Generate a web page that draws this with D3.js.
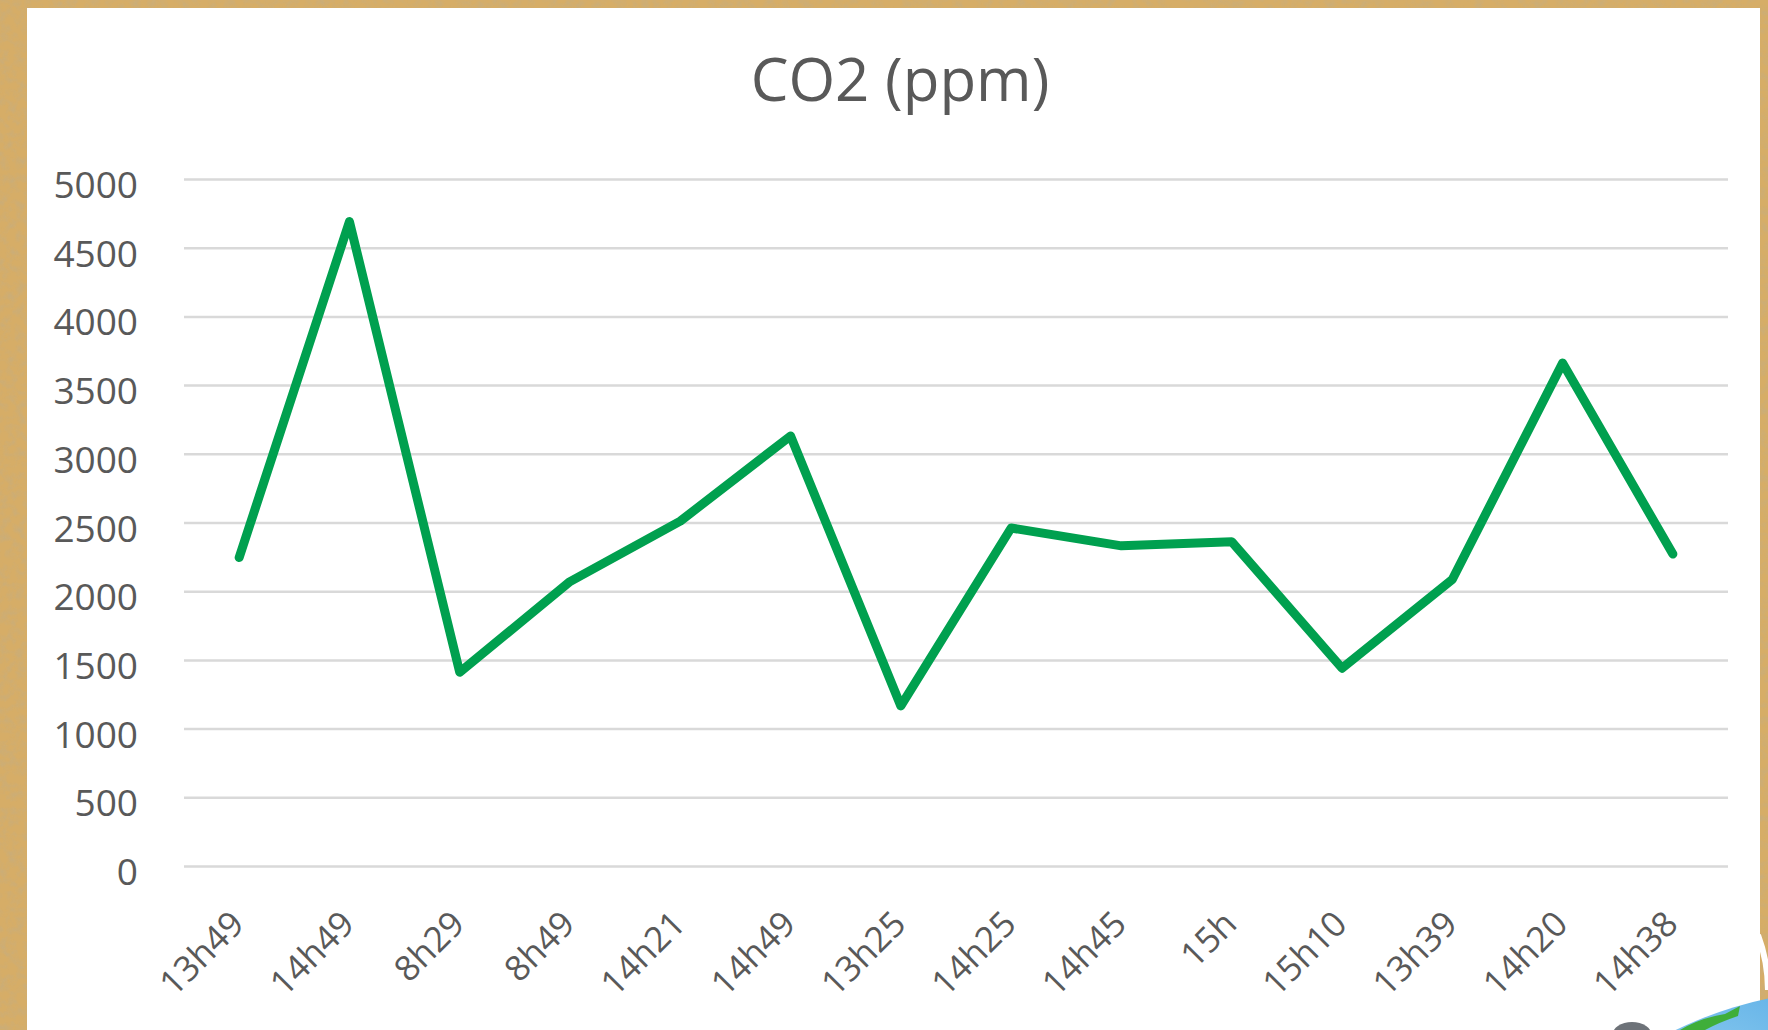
<!DOCTYPE html>
<html>
<head>
<meta charset="utf-8">
<script src="https://cdn.jsdelivr.net/npm/d3@7"></script>
<style>
  html, body { margin: 0; padding: 0; overflow: hidden; }
  body { width: 1768px; height: 1030px; }
  .tick text { font-family: "Open Sans", sans-serif; }
</style>
</head>
<body>
<div id="chart"></div>
<script>
// chart data
const times = ['13h49', '14h49', '8h29', '8h49', '14h21', '14h49', '13h25',
               '14h25', '14h45', '15h', '15h10', '13h39', '14h20', '14h38'];
const co2 = [2245, 4690, 1410, 2070, 2510, 3130, 1165, 2460, 2330, 2360, 1440, 2085, 3660, 2270];
const yTicks = [0, 500, 1000, 1500, 2000, 2500, 3000, 3500, 4000, 4500, 5000];
const title = 'CO2 (ppm)';

const width = 1768;
const height = 1030;
const plot = { left: 184, right: 1728, top: 179, bottom: 866 };

const svg = d3.select('#chart')
    .append('svg')
    .attr('width', width)
    .attr('height', height);

// cork board background
const defs = svg.append('defs');
const cork = defs.append('filter').attr('id', 'cork')
    .attr('x', 0).attr('y', 0).attr('width', '100%').attr('height', '100%');
cork.append('feTurbulence')
    .attr('type', 'fractalNoise')
    .attr('baseFrequency', 0.12)
    .attr('numOctaves', 3)
    .attr('seed', 7)
    .attr('result', 'noise');
cork.append('feColorMatrix')
    .attr('type', 'matrix')
    .attr('values', '0 0 0 0 0.58  0 0 0 0 0.42  0 0 0 0 0.2  2.2 0 0 0 -0.9');

svg.append('rect')
    .attr('width', width)
    .attr('height', height)
    .attr('fill', '#d6ad67');
svg.append('rect')
    .attr('width', width)
    .attr('height', height)
    .attr('filter', 'url(#cork)')
    .attr('opacity', 0.8);

// white chart panel
svg.append('rect')
    .attr('x', 27)
    .attr('y', 8)
    .attr('width', 1733)
    .attr('height', height)
    .attr('fill', '#ffffff');

// globe peeking in the bottom right corner
const globe = defs.append('radialGradient').attr('id', 'globe')
    .attr('cx', '30%').attr('cy', '20%').attr('r', '80%');
globe.append('stop').attr('offset', '0%').attr('stop-color', '#a8dcf5');
globe.append('stop').attr('offset', '45%').attr('stop-color', '#3c9be0');
globe.append('stop').attr('offset', '100%').attr('stop-color', '#1a5fb0');

svg.append('path')
    .attr('d', 'M1758,935 A160,160 0 0,1 1768,990')
    .attr('fill', 'none')
    .attr('stroke', '#ffffff')
    .attr('stroke-width', 6);
svg.append('circle')
    .attr('cx', 1850)
    .attr('cy', 1390)
    .attr('r', 400)
    .attr('fill', 'url(#globe)');
svg.append('path')
    .attr('d', 'M1680,1030 Q1700,1018 1725,1014 L1740,1006 L1738,1016 Q1720,1022 1705,1030 Z')
    .attr('fill', '#3fae3a');
svg.append('ellipse')
    .attr('cx', 1632)
    .attr('cy', 1036)
    .attr('rx', 20)
    .attr('ry', 14)
    .attr('fill', '#6d7278');

// title
svg.append('text')
    .attr('x', 900)
    .attr('y', 101)
    .attr('text-anchor', 'middle')
    .attr('font-family', '"Open Sans", sans-serif')
    .attr('font-size', 60)
    .attr('fill', '#595959')
    .text(title);

const xScale = d3.scaleBand()
    .domain(d3.range(times.length))
    .range([plot.left, plot.right]);

const yScale = d3.scaleLinear()
    .domain([0, 5000])
    .range([plot.bottom, plot.top]);

// y axis with gridlines
const yAxis = d3.axisLeft(yScale)
    .tickValues(yTicks)
    .tickFormat(d3.format('d'))
    .tickSize(-(plot.right - plot.left))
    .tickPadding(46);

const yAxisG = svg.append('g')
    .attr('id', 'y-axis')
    .attr('transform', `translate(${plot.left}, 0)`)
    .call(yAxis);
yAxisG.select('.domain').remove();
yAxisG.selectAll('.tick line')
    .attr('stroke', '#d9d9d9')
    .attr('stroke-width', 2.5);
yAxisG.selectAll('.tick text')
    .attr('font-size', 37)
    .attr('fill', '#595959')
    .attr('dy', '0.5em');

// x axis, labels rotated
const xAxis = d3.axisBottom(xScale)
    .tickFormat(i => times[i])
    .tickSize(0);

const xAxisG = svg.append('g')
    .attr('id', 'x-axis')
    .attr('transform', `translate(0, ${plot.bottom})`)
    .call(xAxis);
xAxisG.select('.domain').remove();
xAxisG.selectAll('.tick text')
    .attr('font-size', 35)
    .attr('fill', '#595959')
    .attr('text-anchor', 'end')
    .attr('dy', null)
    .attr('y', null)
    .attr('transform', 'translate(7, 60) rotate(-45)');

// CO2 line
const line = d3.line()
    .x((d, i) => xScale(i) + xScale.bandwidth() / 2)
    .y(d => yScale(d));

svg.append('path')
    .datum(co2)
    .attr('class', 'line')
    .attr('fill', 'none')
    .attr('stroke', '#00a04f')
    .attr('stroke-width', 9)
    .attr('stroke-linejoin', 'round')
    .attr('stroke-linecap', 'round')
    .attr('d', line);
</script>
</body>
</html>
